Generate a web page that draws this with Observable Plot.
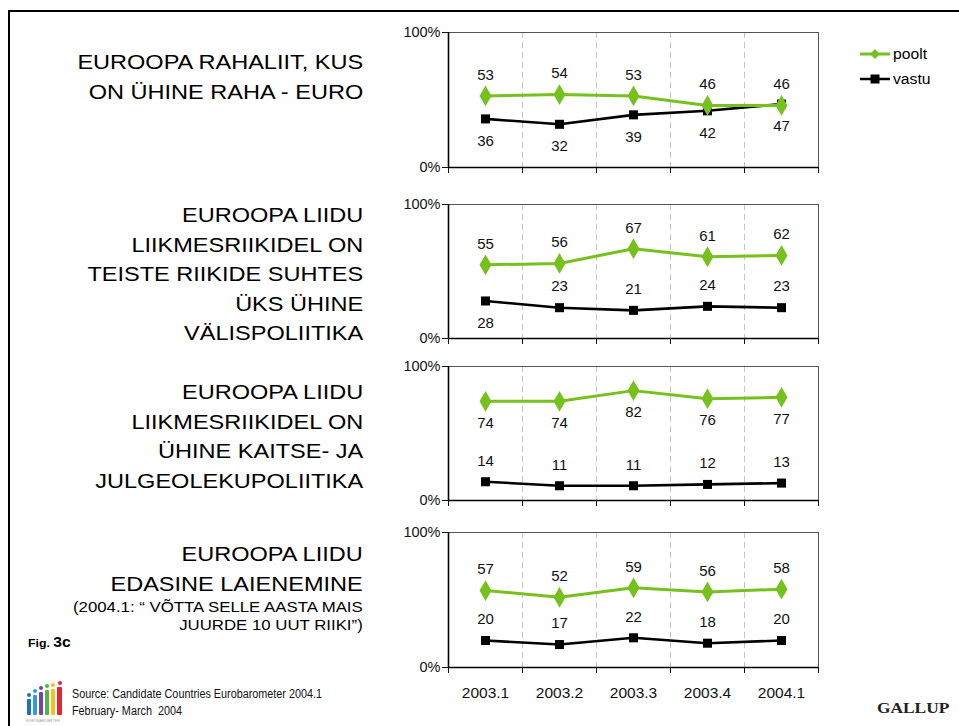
<!DOCTYPE html>
<html><head><meta charset="utf-8">
<script src="https://cdn.jsdelivr.net/npm/d3@7"></script>
<script src="https://cdn.jsdelivr.net/npm/@observablehq/plot@0.6"></script>
<style>
body{margin:0;background:#fff;}
#root{position:relative;width:959px;height:726px;overflow:hidden;font-family:"Liberation Sans",Arial,sans-serif;background:#fff;color:#000}
.frame{position:absolute;left:8px;top:10px;width:1000px;height:1000px;border-left:2px solid #000;border-top:2px solid #000;}
.q{position:absolute;right:596px;text-align:right;font-size:21px;line-height:29.5px;white-space:nowrap;transform:scaleX(1.12);transform-origin:right center}
.q .s{display:block;font-size:15px;line-height:18px}
.panel{position:absolute;left:380px}
.leg{position:absolute;left:858px;font-size:14px;display:flex;align-items:center}
.leg svg{margin-right:3px}
.leg span{display:inline-block;transform:scaleX(1.12);transform-origin:left center}
.src{position:absolute;left:72px;top:686px;font-size:12.5px;line-height:17px;color:#111;white-space:nowrap;transform:scaleX(0.865);transform-origin:left top}
.fig{position:absolute;left:28px;top:634px;font-weight:bold;font-size:11px;transform:scaleX(1.12);transform-origin:left center}
.fig b{font-size:14px}
.gallup{position:absolute;left:877px;top:699px;font-family:"Liberation Serif","Times New Roman",serif;font-weight:bold;font-size:15.5px;color:#222;transform:scaleX(1.12);transform-origin:left center}
.logo{position:absolute;left:26px;top:683px;width:40px;height:40px}
.logo div{position:absolute;bottom:8px;width:4px;border-radius:1px}
.logo span{position:absolute;width:4px;height:4px;border-radius:50%}
.logo i{position:absolute;left:0;bottom:0;font-size:3px;color:#888;font-style:normal;letter-spacing:0.5px}
</style></head>
<body>
<div id="root">
  <div class="frame"></div>
  <div class="q" style="top:47px">EUROOPA RAHALIIT, KUS<br>ON ÜHINE RAHA - EURO</div>
  <div class="q" style="top:200px">EUROOPA LIIDU<br>LIIKMESRIIKIDEL ON<br>TEISTE RIIKIDE SUHTES<br>ÜKS ÜHINE<br>VÄLISPOLIITIKA</div>
  <div class="q" style="top:377px">EUROOPA LIIDU<br>LIIKMESRIIKIDEL ON<br>ÜHINE KAITSE- JA<br>JULGEOLEKUPOLIITIKA</div>
  <div class="q" style="top:539px">EUROOPA LIIDU<br>EDASINE LAIENEMINE<span class="s">(2004.1: “ VÕTTA SELLE AASTA MAIS<br>JUURDE 10 UUT RIIKI”)</span></div>
  <div class="fig">Fig. <b>3c</b></div>
  <div class="leg" style="top:46px"><svg width="32" height="14"><line x1="2" y1="7" x2="32" y2="7" stroke="#77c11f" stroke-width="3"/><path d="M17,2L22,7L17,12L12,7Z" fill="#77c11f"/></svg><span>poolt</span></div>
  <div class="leg" style="top:71px"><svg width="32" height="14"><line x1="2" y1="7" x2="32" y2="7" stroke="#000" stroke-width="2.5"/><rect x="12.5" y="2.5" width="9" height="9" fill="#000"/></svg><span>vastu</span></div>
  <div class="logo">
    <div style="left:1px;height:16px;background:#1f6fc2"></div><span style="left:1px;top:10px;background:#1f6fc2"></span>
    <div style="left:7px;height:20px;background:#2aa3c8"></div><span style="left:7px;top:6px;background:#2aa3c8"></span>
    <div style="left:13px;height:23px;background:#7c3fb0"></div><span style="left:13px;top:3px;background:#7c3fb0"></span>
    <div style="left:19px;height:25px;background:#4cb848"></div><span style="left:19px;top:1px;background:#4cb848"></span>
    <div style="left:25px;height:26px;background:#f2c318"></div><span style="left:25px;top:0px;background:#f2c318"></span>
    <div style="left:31px;height:28px;background:#e0263a;width:5px"></div><span style="left:31.5px;top:-2px;background:#e0263a"></span>
    <i>EUROBAROMETER</i>
  </div>
  <div class="src">Source: Candidate Countries Eurobarometer 2004.1<br>February- March&nbsp; 2004</div>
  <div class="gallup">GALLUP</div>
</div>
<script>
const waves = ["2003.1", "2003.2", "2003.3", "2003.4", "2004.1"];
const poolt1 = [53, 54, 53, 46, 46];
const vastu1 = [36, 32, 39, 42, 47];
const poolt2 = [55, 56, 67, 61, 62];
const vastu2 = [28, 23, 21, 24, 23];
const poolt3 = [74, 74, 82, 76, 77];
const vastu3 = [14, 11, 11, 12, 13];
const poolt4 = [57, 52, 59, 56, 58];
const vastu4 = [20, 17, 22, 18, 20];
const yTicks = [0, 100];

const GREEN = "#77c11f";
const panels = [
  {poolt: poolt1, vastu: vastu1, top: 32, h: 135, gSide: ["a","a","a","a","a"], bSide: ["b","b","b","b","b"]},
  {poolt: poolt2, vastu: vastu2, top: 204, h: 134, gSide: ["a","a","a","a","a"], bSide: ["b","a","a","a","a"]},
  {poolt: poolt3, vastu: vastu3, top: 366, h: 134, gSide: ["b","b","b","b","b"], bSide: ["a","a","a","a","a"]},
  {poolt: poolt4, vastu: vastu4, top: 532, h: 135, gSide: ["a","a","a","a","a"], bSide: ["a","a","a","a","a"], last: true}
];

const root = document.getElementById("root");
const X = d => d.i + 0.5;

panels.forEach(p => {
  const g = waves.map((w, i) => ({i, w, v: p.poolt[i], side: p.gSide[i]}));
  const b = waves.map((w, i) => ({i, w, v: p.vastu[i], side: p.bSide[i]}));
  const mt = 10, mb = p.last ? 45 : 12;
  const labels = (data, side, dy) => Plot.text(data.filter(d => d.side === side), {x: X, y: "v", text: d => String(d.v), dy, fontSize: 15, fill: "#111"});
  const marks = [
    Plot.ruleX([1, 2, 3, 4], {stroke: "#c4c4c4", strokeDasharray: "6,4", strokeWidth: 1}),
    Plot.frame({stroke: "#555", strokeWidth: 1}),
    Plot.ruleY([0], {stroke: "#000", strokeWidth: 1.6}),
    Plot.ruleX([0], {stroke: "#000", strokeWidth: 1.6}),
    Plot.axisY({ticks: yTicks, tickFormat: d => d + "%", tickSize: 6, tickPadding: 2, fontSize: 14.5, label: null}),
    Plot.axisX({ticks: [0, 1, 2, 3, 4, 5], tickFormat: () => "", tickSize: 6, label: null}),
    Plot.line(b, {x: X, y: "v", stroke: "#000", strokeWidth: 2.6}),
    Plot.dot(b, {x: X, y: "v", symbol: "square", r: 5.1, fill: "#000"}),
    Plot.line(g, {x: X, y: "v", stroke: GREEN, strokeWidth: 3}),
    Plot.dot(g, {x: X, y: "v", symbol: "diamond", r: 6.3, fill: GREEN}),
    labels(g, "a", -21), labels(g, "b", 22),
    labels(b, "a", -21), labels(b, "b", 22)
  ];
  if (p.last) {
    marks.push(Plot.axisX({ticks: [0.5, 1.5, 2.5, 3.5, 4.5], tickFormat: d => waves[Math.floor(d)], tickSize: 0, tickPadding: 19, fontSize: 15.5, label: null}));
  }
  const chart = Plot.plot({
    width: 460,
    height: mt + p.h + mb,
    marginLeft: 68, marginRight: 22, marginTop: mt, marginBottom: mb,
    x: {domain: [0, 5]},
    y: {domain: [0, 100]},
    style: {fontFamily: "'Liberation Sans', Arial, sans-serif", fontSize: "13px", color: "#111", background: "transparent", overflow: "visible"},
    marks
  });
  const div = document.createElement("div");
  div.className = "panel";
  div.style.top = (p.top - mt) + "px";
  div.appendChild(chart);
  root.appendChild(div);
});
</script>
</body></html>
